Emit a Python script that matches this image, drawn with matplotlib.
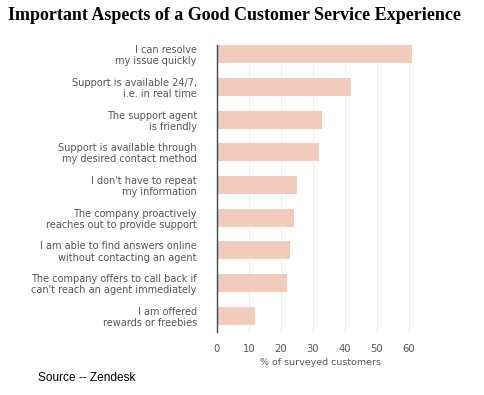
import matplotlib
matplotlib.use("Agg")
import matplotlib.pyplot as plt

categories = [
    "I can resolve\nmy issue quickly",
    "Support is available 24/7,\ni.e. in real time",
    "The support agent\nis friendly",
    "Support is available through\nmy desired contact method",
    "I don't have to repeat\nmy information",
    "The company proactively\nreaches out to provide support",
    "I am able to find answers online\nwithout contacting an agent",
    "The company offers to call back if\ncan't reach an agent immediately",
    "I am offered\nrewards or freebies",
]
values = [61, 42, 33, 32, 25, 24, 23, 22, 12]
xticks = [0, 10, 20, 30, 40, 50, 60]

fig = plt.figure(figsize=(4.84, 3.95), dpi=100)
ax = fig.add_axes([0.4483, 0.1603, 0.4287, 0.7257])

pos = list(range(len(categories)))
ax.barh(pos, values, height=0.55, color="#f2cbbd", zorder=2)
ax.set_ylim(8.48, -0.275)
ax.set_xlim(0, 65)
ax.set_yticks(pos)
ax.set_yticklabels(categories, fontsize=7.0, color="#555555", linespacing=1.15)
ax.set_xticks(xticks)
ax.set_xticklabels([str(t) for t in xticks], fontsize=7.2, color="#555555")
ax.tick_params(axis="y", length=0, pad=14.5)
ax.tick_params(axis="x", length=0, pad=9)
for t in xticks[1:]:
    ax.axvline(t, color="#eeeeee", lw=0.8, zorder=1)
for s in ["top", "right", "bottom"]:
    ax.spines[s].set_visible(False)
ax.spines["left"].set_color("#3d4a55")
ax.spines["left"].set_linewidth(1.0)
ax.set_xlabel("% of surveyed customers", fontsize=6.8, color="#555555", labelpad=3)

fig.text(0.017, 0.962, "Important Aspects of a Good Customer Service Experience",
         fontsize=13, fontweight="bold", family="Liberation Serif", va="center", ha="left")
fig.text(0.079, 0.043, "Source -- Zendesk", fontsize=8.6, family="Liberation Sans",
         va="center", ha="left")

fig.savefig("out.png", dpi=100)
